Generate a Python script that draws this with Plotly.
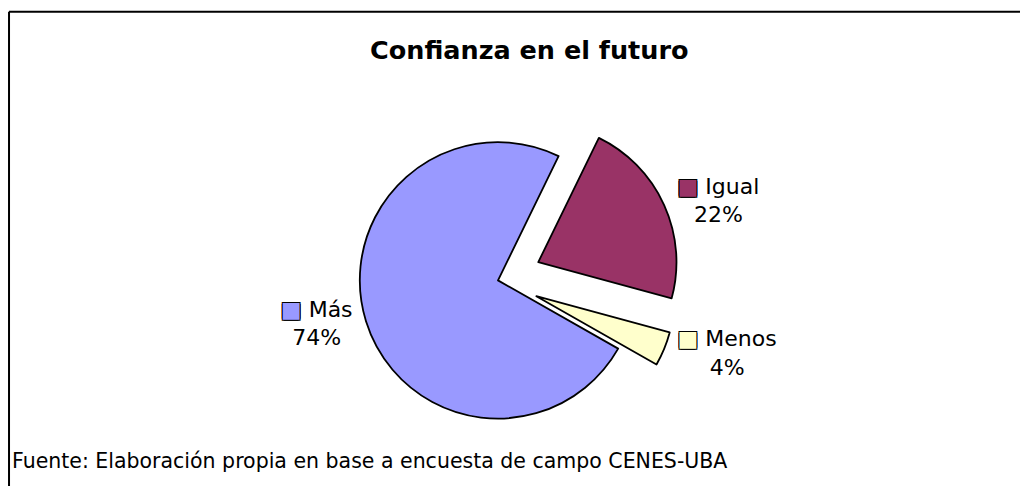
import plotly.graph_objects as go

# Data
labels = ["Igual", "Menos", "Más"]
values = [22, 4, 74]
colors = ["#993366", "#FFFFCC", "#9999FF"]
pulls = [0.32, 0.30, 0.0]

title_text = "Confianza en el futuro"
source_text = "Fuente: Elaboración propia en base a encuesta de campo CENES-UBA"

outline = "text-shadow:-1px -1px 0 #000,1px -1px 0 #000,-1px 1px 0 #000,1px 1px 0 #000"
texts = [f"<span style='color:{c};{outline}'>■</span> {l}" for l, c in zip(labels, colors)]

FONT = "DejaVu Sans, Liberation Sans, Arial, sans-serif"

fig = go.Figure()
fig.add_trace(go.Pie(
    labels=labels,
    values=values,
    text=texts,
    sort=False,
    direction="clockwise",
    rotation=26,
    pull=pulls,
    marker=dict(colors=colors, line=dict(color="black", width=1.8)),
    textposition="outside",
    texttemplate="%{text}<br>%{percent:.0%}",
    textfont=dict(family=FONT, size=22, color="black"),
    showlegend=False,
    domain=dict(x=[0.2304, 0.7304], y=[0.0718, 0.8164]),
    hoverinfo="label+percent",
))

# chart frame (top and left edges visible)
fig.add_shape(type="line", xref="paper", yref="paper", x0=0.001, x1=1, y0=0.9925, y1=0.9925,
              line=dict(color="black", width=2))
fig.add_shape(type="line", xref="paper", yref="paper", x0=0.001, x1=0.001, y0=0, y1=0.9925,
              line=dict(color="black", width=2))

fig.add_annotation(text=f"<b>{title_text}</b>", xref="paper", yref="paper", x=0.5108, y=0.914,
                   xanchor="center", yanchor="middle", showarrow=False,
                   font=dict(family=FONT, size=25.5, color="black"))
fig.add_annotation(text=source_text, xref="paper", yref="paper", x=0.002, y=0.075,
                   xanchor="left", yanchor="middle", showarrow=False,
                   font=dict(family=FONT, size=20.5, color="black"))

fig.update_layout(
    width=1020, height=504,
    margin=dict(l=0, r=0, t=0, b=0),
    paper_bgcolor="white",
    plot_bgcolor="white",
)

fig.write_html("out.html")
